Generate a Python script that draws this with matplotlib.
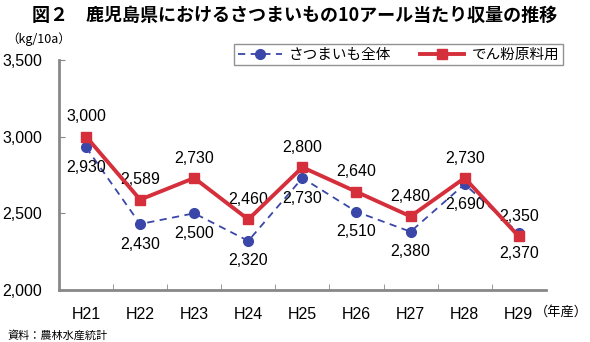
import matplotlib.pyplot as plt

plt.rcParams['font.family'] = ['Noto Sans CJK JP', 'DejaVu Sans']
num_font = ['Liberation Sans', 'DejaVu Sans']

years = ['H21', 'H22', 'H23', 'H24', 'H25', 'H26', 'H27', 'H28', 'H29']
total = [2930, 2430, 2500, 2320, 2730, 2510, 2380, 2690, 2370]
starch = [3000, 2589, 2730, 2460, 2800, 2640, 2480, 2730, 2350]
yticks = [2000, 2500, 3000, 3500]

blue = '#3a47a8'
red = '#d42f3a'

fig = plt.figure(figsize=(5.9, 3.42), dpi=100)
ax = fig.add_axes([0.1, 0.152, 0.825, 0.673])

x = list(range(len(years)))
ax.plot(x, total, color=blue, linestyle=(0, (4, 3)), linewidth=1.3,
        marker='o', markersize=7, label='さつまいも全体', zorder=3)
ax.plot(x, starch, color=red, linewidth=2.8, marker='s', markersize=7,
        label='でん粉原料用', zorder=4)

for i in x:
    ax.annotate(f'{starch[i]:,}', (i, starch[i]), xytext=(0, 9),
                textcoords='offset points', ha='center', va='bottom',
                fontsize=11.5, family=num_font)
    ax.annotate(f'{total[i]:,}', (i, total[i]), xytext=(0, -9),
                textcoords='offset points', ha='center', va='top',
                fontsize=11.5, family=num_font)

ax.set_xlim(-0.5, len(years) - 0.5)
ax.set_ylim(2000, 3500)
ax.set_yticks(yticks)
ax.set_yticklabels([f'{v:,}' for v in yticks], fontsize=11.5, family=num_font)
ax.set_xticks(x)
ax.set_xticklabels(years, fontsize=11.5, family=num_font)
ax.set_xticks([i + 0.5 for i in x[:-1]], minor=True)
ax.tick_params(axis='x', which='major', length=0, pad=12)
ax.tick_params(axis='x', which='minor', length=4, direction='in', color='#888888')
ax.tick_params(axis='y', length=4, direction='in', color='#888888', pad=12)
for s in ['top', 'right']:
    ax.spines[s].set_visible(False)
for s in ['left', 'bottom']:
    ax.spines[s].set_color('#888888')
    ax.spines[s].set_linewidth(2)

leg = ax.legend(loc='upper right', bbox_to_anchor=(1.05, 1.1), ncol=2, fontsize=10.5,
                frameon=True, fancybox=False, edgecolor='#777777',
                handlelength=3.0, columnspacing=2.0, handletextpad=0.5,
                borderpad=0.25)
leg.get_frame().set_linewidth(1)

fig.text(0.5, 0.955, '図２　鹿児島県におけるさつまいもの10アール当たり収量の推移',
         ha='center', va='center', fontsize=13, fontweight='bold')
fig.text(0.01, 0.885, '（kg/10a）', ha='left', va='center', fontsize=9)
fig.text(0.997, 0.087, '（年産）', ha='right', va='center', fontsize=9.5)
fig.text(0.012, 0.02, '資料：農林水産統計', ha='left', va='center', fontsize=8)

fig.savefig('out.png', dpi=100)
